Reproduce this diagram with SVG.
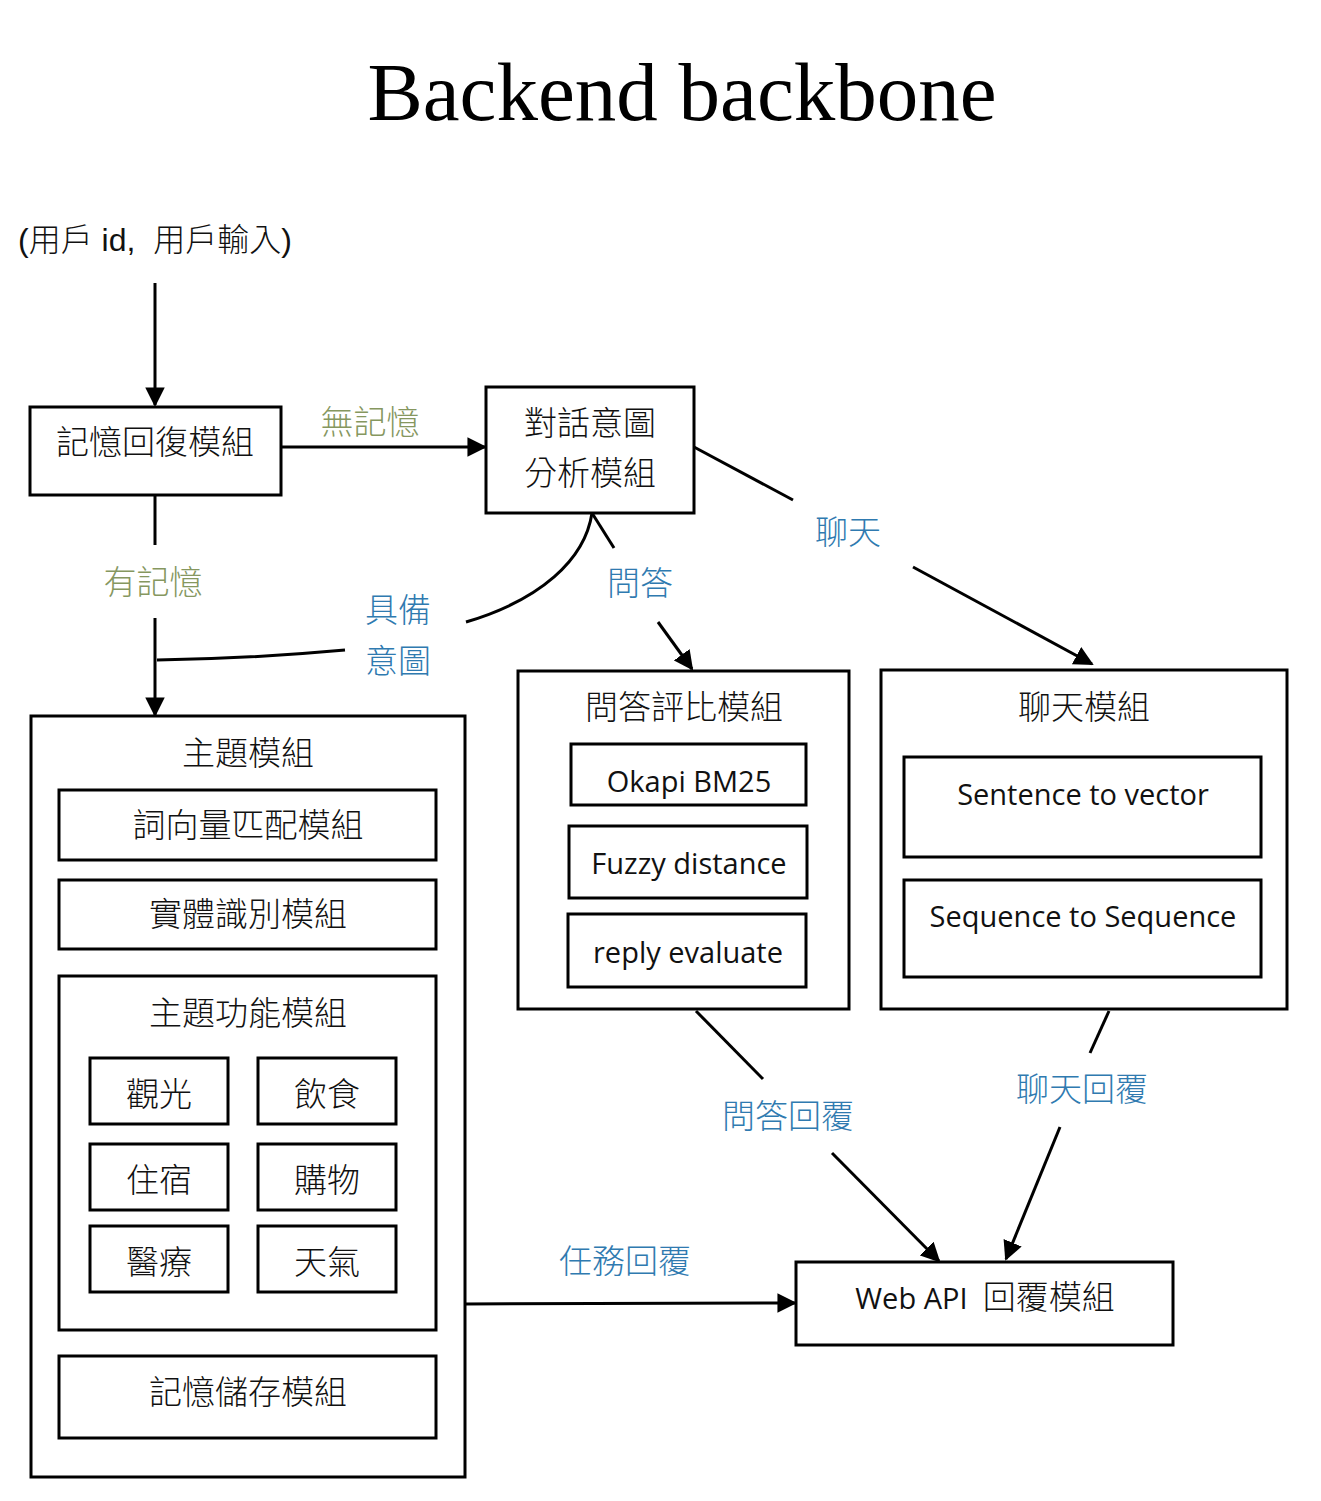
<svg xmlns="http://www.w3.org/2000/svg" width="1321" height="1501" viewBox="0 0 1321 1501">
<style>
.box{fill:#fff;stroke:#000;stroke-width:3}
.ln{fill:none;stroke:#000;stroke-width:3}
.cjk{font-family:"Noto Sans CJK TC","Noto Sans CJK SC",sans-serif;font-weight:300;font-size:33px;fill:#111;text-anchor:middle}
.lat{font-family:"Open Sans","Noto Sans","Noto Sans CJK TC",sans-serif;font-size:29px;fill:#111;text-anchor:middle;white-space:pre}
.olive{fill:#86975f}
.blue{fill:#2f7ab0}
</style>
<defs>
<marker id="ah" viewBox="0 0 10 10" refX="9" refY="5" markerWidth="6.5" markerHeight="6.5" markerUnits="strokeWidth" orient="auto">
<path d="M0,0 L10,5 L0,10 z" fill="#000"/>
</marker>
</defs>
<rect width="1321" height="1501" fill="#fff"/>
<text x="682" y="120" font-family="Liberation Serif, serif" font-size="83" text-anchor="middle" fill="#000">Backend backbone</text>
<text x="18" y="251" font-family="Liberation Sans, Noto Sans CJK TC, sans-serif" font-size="32" fill="#111" font-weight="300" style="white-space:pre">(用戶 id,  用戶輸入)</text>

<g id="connectors">
<line class="ln" x1="155" y1="283" x2="155" y2="405" marker-end="url(#ah)"/>
<line class="ln" x1="281" y1="447" x2="485" y2="447" marker-end="url(#ah)"/>
<text class="cjk olive" x="370" y="434">無記憶</text>
<line class="ln" x1="694" y1="447" x2="793" y2="500"/>
<text class="cjk blue" x="848" y="544">聊天</text>
<line class="ln" x1="913" y1="567" x2="1092" y2="664" marker-end="url(#ah)"/>
<line class="ln" x1="155" y1="495" x2="155" y2="545"/>
<text class="cjk olive" x="153" y="594">有記憶</text>
<line class="ln" x1="155" y1="618" x2="155" y2="715" marker-end="url(#ah)"/>
<path class="ln" d="M592,513 C585,560 540,600 466,622"/>
<path class="ln" d="M345,650 C280,656 220,659 157,660"/>
<text class="cjk blue" x="398" y="622">具備</text>
<text class="cjk blue" x="398" y="673">意圖</text>
<line class="ln" x1="592" y1="513" x2="614" y2="548"/>
<text class="cjk blue" x="640" y="595">問答</text>
<line class="ln" x1="658" y1="622" x2="692" y2="669" marker-end="url(#ah)"/>
<line class="ln" x1="696" y1="1011" x2="763" y2="1079"/>
<text class="cjk blue" x="788" y="1128">問答回覆</text>
<line class="ln" x1="832" y1="1153" x2="939" y2="1261" marker-end="url(#ah)"/>
<line class="ln" x1="1109" y1="1011" x2="1090" y2="1053"/>
<text class="cjk blue" x="1082" y="1101">聊天回覆</text>
<line class="ln" x1="1060" y1="1127" x2="1006" y2="1259" marker-end="url(#ah)"/>
<text class="cjk blue" x="625" y="1273">任務回覆</text>
<line class="ln" x1="465" y1="1304" x2="795" y2="1303" marker-end="url(#ah)"/>
</g>

<g id="memory-reply">
<rect class="box" x="30" y="407" width="251" height="88"/>
<text class="cjk" x="155" y="454">記憶回復模組</text>
</g>
<g id="intent">
<rect class="box" x="486" y="387" width="208" height="126"/>
<text class="cjk" x="590" y="435">對話意圖</text>
<text class="cjk" x="590" y="485">分析模組</text>
</g>
<g id="topic">
<rect class="box" x="31" y="716" width="434" height="761"/>
<text class="cjk" x="248" y="765">主題模組</text>
<g id="wordvec"><rect class="box" x="59" y="790" width="377" height="70"/><text class="cjk" x="248" y="837">詞向量匹配模組</text></g>
<g id="ner"><rect class="box" x="59" y="880" width="377" height="69"/><text class="cjk" x="248" y="926">實體識別模組</text></g>
<g id="topicfunc">
<rect class="box" x="59" y="976" width="377" height="354"/>
<text class="cjk" x="248" y="1025">主題功能模組</text>
<g id="tour"><rect class="box" x="90" y="1058" width="138" height="66"/><text class="cjk" x="159" y="1106">觀光</text></g>
<g id="food"><rect class="box" x="258" y="1058" width="138" height="66"/><text class="cjk" x="327" y="1106">飲食</text></g>
<g id="stay"><rect class="box" x="90" y="1144" width="138" height="66"/><text class="cjk" x="159" y="1192">住宿</text></g>
<g id="shop"><rect class="box" x="258" y="1144" width="138" height="66"/><text class="cjk" x="327" y="1192">購物</text></g>
<g id="medical"><rect class="box" x="90" y="1226" width="138" height="66"/><text class="cjk" x="159" y="1274">醫療</text></g>
<g id="weather"><rect class="box" x="258" y="1226" width="138" height="66"/><text class="cjk" x="327" y="1274">天氣</text></g>
</g>
<g id="memstore"><rect class="box" x="59" y="1356" width="377" height="82"/><text class="cjk" x="248" y="1404">記憶儲存模組</text></g>
</g>
<g id="qa">
<rect class="box" x="518" y="671" width="331" height="338"/>
<text class="cjk" x="684" y="719">問答評比模組</text>
<g id="bm25"><rect class="box" x="571" y="744" width="235" height="61"/><text class="lat" x="689" y="792">Okapi BM25</text></g>
<g id="fuzzy"><rect class="box" x="569" y="826" width="238" height="72"/><text class="lat" x="689" y="874">Fuzzy distance</text></g>
<g id="reply"><rect class="box" x="568" y="914" width="238" height="73"/><text class="lat" x="688" y="963">reply evaluate</text></g>
</g>
<g id="chat">
<rect class="box" x="881" y="670" width="406" height="339"/>
<text class="cjk" x="1084" y="719">聊天模組</text>
<g id="s2v"><rect class="box" x="904" y="757" width="357" height="100"/><text class="lat" x="1083" y="805">Sentence to vector</text></g>
<g id="seq2seq"><rect class="box" x="904" y="880" width="357" height="97"/><text class="lat" x="1083" y="927">Sequence to Sequence</text></g>
</g>
<g id="webapi">
<rect class="box" x="796" y="1262" width="377" height="83"/>
<text class="lat" x="985" y="1309">Web API  <tspan font-family="Noto Sans CJK TC, sans-serif" font-weight="300" font-size="33">回覆模組</tspan></text>
</g>
</svg>
